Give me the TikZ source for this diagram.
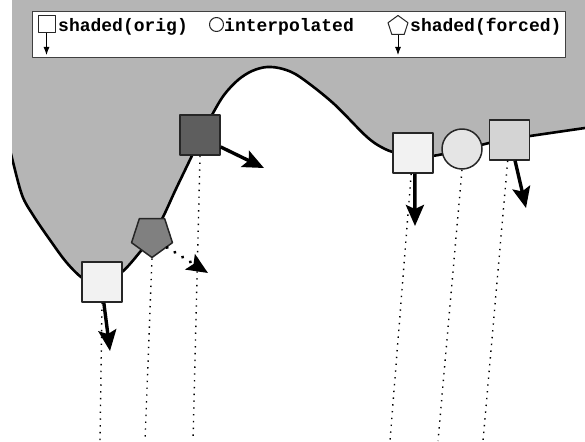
\documentclass[tikz,border=0pt]{standalone}
\usepackage{fontspec}
\setmonofont{Liberation Mono}
\usetikzlibrary{arrows.meta,shapes.geometric}
\begin{document}
\begin{tikzpicture}[x=1pt, y=-1pt, line join=round, >={Stealth[length=21pt,width=18pt,inset=4pt]},
 font=\ttfamily\bfseries\fontsize{18}{20}\selectfont,
 edge/.style={draw=black!85, line width=1.5pt, inner sep=0pt},
 sq/.style={edge, rectangle, minimum size=40pt},
 pent/.style={edge, regular polygon, regular polygon sides=5, minimum size=43pt, shape border rotate=180},
 push/.style={->, line width=3.4pt},
 thread/.style={line width=1.4pt, dash pattern=on 1.4pt off 5.4pt},
 key/.style={draw=black!85, line width=1pt, fill=white, inner sep=0pt},
 keyarrow/.style={-{Latex[length=8pt,width=6pt]}, line width=0.9pt},
 keytext/.style={anchor=base west, inner sep=0pt}]
\useasboundingbox (0,0) rectangle (585,441);
\begin{scope}
\clip (12,0) rectangle (585,441);
\draw[line width=2.6pt, fill=black!29] plot[smooth, tension=.55] coordinates {(2,118) (12,158) (22,195) (33,215) (50,240) (67,263) (84,279) (102,283) (122,272) (140,252) (152,236) (163,217) (175,191) (187,166) (200,139) (212,115) (224,95) (238,80) (252,71) (267,67) (283,69) (300,77) (333,103) (367,137) (385,149) (400,154) (412,156) (432,156) (462,150) (489,143) (510,139) (530,136) (585,128) (600,126)} -- (600,-10) -- (0,-10) -- cycle;
\end{scope}
\node[sq, fill=black!5] (o1) at (102,282) {};
\node[pent, fill=black!50] (fc) at (152,236) {};
\node[sq, fill=black!63] (o2) at (200,135) {};
\node[sq, fill=black!5] (o3) at (413,153) {};
\node[edge, circle, minimum size=40pt, fill=black!10] (ip) at (462,149) {};
\node[sq, fill=black!17] (o4) at (509.5,140) {};
\path (110,351) coordinate (vo1) (208,273) coordinate (vfc) (264,168) coordinate (vo2)
 (415,226) coordinate (vo3) (526,208) coordinate (vo4);
\path (100,441) coordinate (fo1) (145,441) coordinate (ffc) (193,441) coordinate (fo2)
 (390,441) coordinate (fo3) (438,441) coordinate (fip) (483,441) coordinate (fo4);
\foreach \n/\a in {o1/-90, fc/-90, o2/-90, o3/-95, ip/-90, o4/-95}{\draw[thread] (\n.\a) -- (f\n);}
\foreach \n/\a in {o1/-85, o2/-30, o3/-85, o4/-75}{\draw[push] (\n.\a) -- (v\n);}
\draw[push, line cap=round, dash pattern=on 0.1pt off 9pt] (fc.-37) -- (vfc);
\draw[draw=black!75, line width=1pt, fill=white] (32,12) rectangle (565,58);
\node[key, rectangle, minimum size=17pt] (k1) at (46.5,24) {};
\node[keytext] (t1) at (58,32) {shaded(orig)};
\node[key, circle, minimum size=14pt] (k2) at (216.5,24.5) {};
\node[keytext] (t2) at (224,32) {interpolated};
\node[key, regular polygon, regular polygon sides=5, minimum size=21pt] (k3) at (398,26) {};
\node[keytext] (t3) at (410,32) {shaded(forced)};
\path (46.5,55) coordinate (kv1) (398,55) coordinate (kv3);
\foreach \n in {1,3}{\draw[keyarrow] (k\n.south) -- (kv\n);}
\end{tikzpicture}
\end{document}
